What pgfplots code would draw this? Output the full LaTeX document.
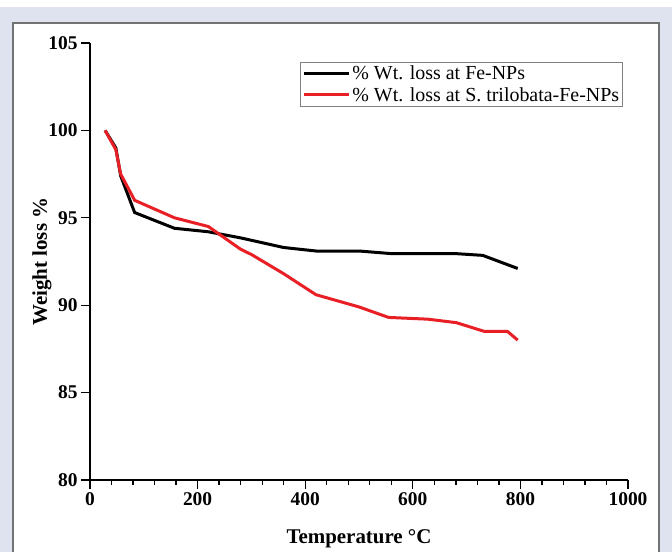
\documentclass[border=0pt]{standalone}
\usepackage{pgfplots}
\pgfplotsset{compat=1.18}
\usepackage{fontspec}
\setmainfont{Liberation Serif}
\definecolor{lav}{RGB}{223,227,240}
\definecolor{myred}{RGB}{232,32,38}
\begin{document}
\begin{tikzpicture}[x=1bp,y=1bp]
\useasboundingbox (0,0) rectangle (672,552);
\fill[lav] (0,0) rectangle (672,545);
\fill[white] (13,0) rectangle (659,529);
\draw[line width=1.5bp, gray!90!black] (13,-2) -- (13,529) -- (659,529) -- (659,-2);
\begin{axis}[
  at={(90bp,72bp)}, anchor=south west,
  scale only axis,
  width=538bp, height=437bp,
  xmin=0, xmax=1000, ymin=80, ymax=105,
  axis x line*=bottom, axis y line*=left,
  axis line style={line width=1.5bp, -},
  xtick={0,200,...,1000},
  ytick={80,85,...,105},
  minor x tick num=4,
  xtick pos=bottom, ytick pos=left,
  tick align=outside,
  major tick length=9bp,
  minor tick length=5bp,
  every tick/.style={line width=1.3bp, black},
  /pgf/number format/assume math mode=true,
  /pgf/number format/set thousands separator={},
  ticklabel style={font=\fontsize{19.5}{19.5}\selectfont\bfseries},
  xlabel={Temperature \textdegree C},
  ylabel={Weight loss \%},
  label style={font=\fontsize{21}{22}\selectfont\bfseries},
  xlabel style={yshift=-17bp},
  ylabel style={yshift=-10bp},
  legend style={at={(0.9907,0.9565)}, anchor=north east, draw=gray, line width=0.8bp,
    font=\fontsize{20}{21}\selectfont, inner sep=1.5bp, row sep=2bp, cells={anchor=west}},
  legend image code/.code={\draw[#1, line width=3bp] (0bp,0bp) -- (45bp,0bp);},
]
\addplot[black, line width=3bp] coordinates {
(28,100) (48,99.0) (57,97.4) (83,95.3) (157,94.4) (220,94.2) (280,93.85) (360,93.3)
(420,93.1) (500,93.1) (560,92.95) (680,92.95) (730,92.85) (795,92.1)};
\addlegendentry{\% Wt. loss at Fe-NPs}
\addplot[myred, line width=3bp] coordinates {
(28,100) (48,98.9) (57,97.5) (83,96.0) (157,95.0) (220,94.5) (280,93.2) (300,92.9) (360,91.8)
(420,90.6) (500,89.9) (555,89.3) (628,89.2) (681,89.0) (733,88.5) (776,88.5) (795,88.0)};
\addlegendentry{\% Wt. loss at S. trilobata-Fe-NPs}
\end{axis}
\end{tikzpicture}
\end{document}
